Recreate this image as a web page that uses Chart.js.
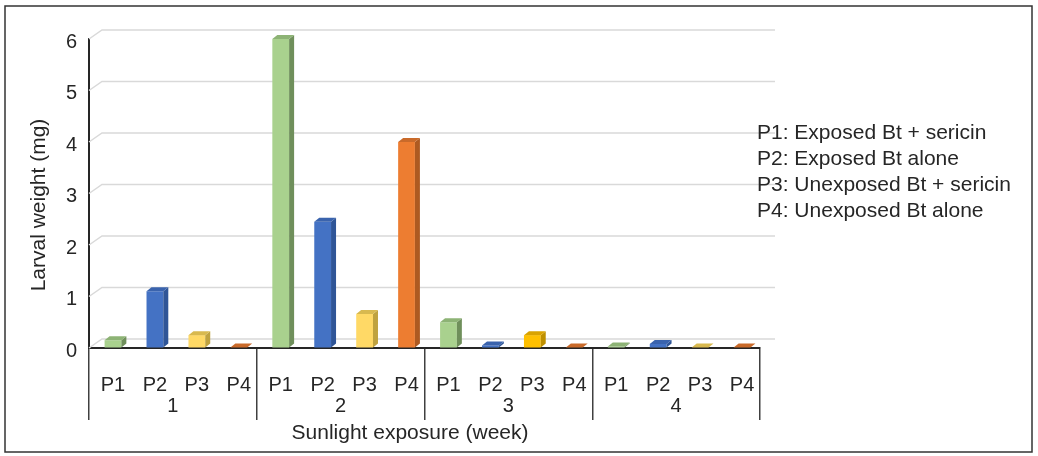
<!DOCTYPE html>
<html>
<head>
<meta charset="utf-8">
<script src="https://cdn.jsdelivr.net/npm/chart.js@4.4.0/dist/chart.umd.min.js"></script>
<style>
  html, body { margin: 0; padding: 0; background: #fff; }
  #wrap { position: relative; width: 1038px; height: 456px; }
</style>
</head>
<body>
<div id="wrap"><canvas id="chart" width="1038" height="456"></canvas></div>
<script>
// Weeks on the x axis, treatments inside each week
const weeks = ['1', '2', '3', '4'];
const treatments = ['P1', 'P2', 'P3', 'P4'];
const legendLabels = [
    'P1: Exposed Bt + sericin',
    'P2: Exposed Bt alone',
    'P3: Unexposed Bt + sericin',
    'P4: Unexposed Bt alone'
];
const xTitle = 'Sunlight exposure (week)';
const yTitle = 'Larval weight (mg)';

// Larval weight (mg)
const p1Values = [0.15, 6.0, 0.5, 0.03];
const p2Values = [1.1, 2.45, 0.05, 0.08];
const p3Values = [0.25, 0.66, 0.25, 0.01];
const p4Values = [0.01, 4.0, 0.01, 0.01];

const yTicks = [0, 1, 2, 3, 4, 5, 6];

// Colours (front / side / top faces)
const frontColors = ['#a9d18e', '#4472c4', ['#ffd966', '#ffd966', '#ffc000', '#e6c95c'], '#ed7d31'];
const sideColors = ['#6f8f5b', '#2f5597', ['#bfa23f', '#bfa23f', '#bf9000', '#bfa23f'], '#ae5a21'];
const topColors = ['#8db375', '#3a63ad', ['#d8b94f', '#d8b94f', '#d9a300', '#d8b94f'], '#c96a2a'];

const FONT = "'Liberation Sans', Arial, sans-serif";
const TEXT = '#262626';
const DX = 5, DY = 4, SHIFT = 3;   // 3D depth and bar nudge
const GRID_BACK_X = 13, GRID_BACK_Y = 9, GRID_RIGHT = 775;

Chart.defaults.font.family = FONT;
Chart.defaults.color = TEXT;

const valueSets = [p1Values, p2Values, p3Values, p4Values];

function pick(c, j) {
    return Array.isArray(c) ? c[j] : c;
}

// Back-wall gridlines with the slanted 3D start, 3D bar faces, extra text
const wallPlugin = {
    id: 'wall',
    beforeDraw(chart) {
        const ctx = chart.ctx;
        ctx.save();
        ctx.strokeStyle = '#333';
        ctx.lineWidth = 1.5;
        ctx.strokeRect(5, 6, 1027, 446);
        ctx.restore();
    },
    beforeDatasetsDraw(chart) {
        const ctx = chart.ctx;
        const y = chart.scales.y;
        const left = chart.chartArea.left;
        ctx.save();
        ctx.strokeStyle = '#d9d9d9';
        ctx.lineWidth = 1.5;
        yTicks.forEach(v => {
            const py = y.getPixelForValue(v);
            ctx.beginPath();
            ctx.moveTo(left, py);
            ctx.lineTo(left + GRID_BACK_X, py - GRID_BACK_Y);
            ctx.lineTo(GRID_RIGHT, py - GRID_BACK_Y);
            ctx.stroke();
        });
        ctx.restore();
        // nudge bars like the original
        ctx.save();
        ctx.translate(SHIFT, 0);
    },
    afterDatasetsDraw(chart) {
        const ctx = chart.ctx;
        chart.data.datasets.forEach((ds, i) => {
            const meta = chart.getDatasetMeta(i);
            meta.data.forEach((bar, j) => {
                const p = bar.getProps(['x', 'y', 'base', 'width'], true);
                const l = p.x - p.width / 2;
                const r = p.x + p.width / 2;
                // side face
                ctx.fillStyle = pick(ds.sideColor, j);
                ctx.beginPath();
                ctx.moveTo(r, p.y);
                ctx.lineTo(r + DX, p.y - DY);
                ctx.lineTo(r + DX, p.base - DY);
                ctx.lineTo(r, p.base);
                ctx.closePath();
                ctx.fill();
                // top face
                ctx.fillStyle = pick(ds.topColor, j);
                ctx.beginPath();
                ctx.moveTo(l, p.y);
                ctx.lineTo(l + DX, p.y - DY);
                ctx.lineTo(r + DX, p.y - DY);
                ctx.lineTo(r, p.y);
                ctx.closePath();
                ctx.fill();
            });
        });
        ctx.restore();
    },
    afterDraw(chart) {
        const ctx = chart.ctx;
        ctx.save();
        ctx.fillStyle = TEXT;
        ctx.font = '20px ' + FONT;
        ctx.textAlign = 'center';
        ctx.textBaseline = 'middle';
        // treatment labels under each bar
        chart.data.datasets.forEach((ds, i) => {
            chart.getDatasetMeta(i).data.forEach(bar => {
                ctx.fillText(treatments[i], bar.x + SHIFT, 385);
            });
        });
        // axis titles
        ctx.font = '21px ' + FONT;
        ctx.fillText(xTitle, 410, 433);
        ctx.save();
        ctx.translate(39, 205);
        ctx.rotate(-Math.PI / 2);
        ctx.fillText(yTitle, 0, 0);
        ctx.restore();
        // text legend on the right
        ctx.textAlign = 'left';
        legendLabels.forEach((t, i) => {
            ctx.fillText(t, 757, 133 + i * 26);
        });
        ctx.restore();
    }
};

const datasets = treatments.map((t, i) => ({
    label: t,
    data: valueSets[i],
    backgroundColor: frontColors[i],
    sideColor: sideColors[i],
    topColor: topColors[i],
    barPercentage: 0.4,
    categoryPercentage: 1.0
}));

new Chart(document.getElementById('chart'), {
    type: 'bar',
    data: { labels: weeks, datasets: datasets },
    options: {
        responsive: false,
        animation: false,
        layout: { padding: { left: 0, top: 39, right: 278, bottom: 0 } },
        plugins: {
            legend: { display: false },
            tooltip: { enabled: false }
        },
        scales: {
            x: {
                grid: {
                    display: true,
                    offset: true,
                    drawOnChartArea: false,
                    tickLength: 72,
                    color: '#404040',
                    lineWidth: 1.5
                },
                border: { display: true, color: '#262626', width: 2 },
                ticks: { font: { size: 20 }, color: TEXT, padding: -26 },
                afterFit: s => { s.height = 108; }
            },
            y: {
                min: 0,
                max: 6,
                grid: { display: true, drawOnChartArea: false, drawTicks: false },
                border: { display: true, color: '#262626', width: 2 },
                ticks: { stepSize: 1, font: { size: 20 }, color: TEXT, padding: 12, labelOffset: 3 },
                afterFit: s => { s.width = 89; }
            }
        }
    },
    plugins: [wallPlugin]
});
</script>
</body>
</html>
